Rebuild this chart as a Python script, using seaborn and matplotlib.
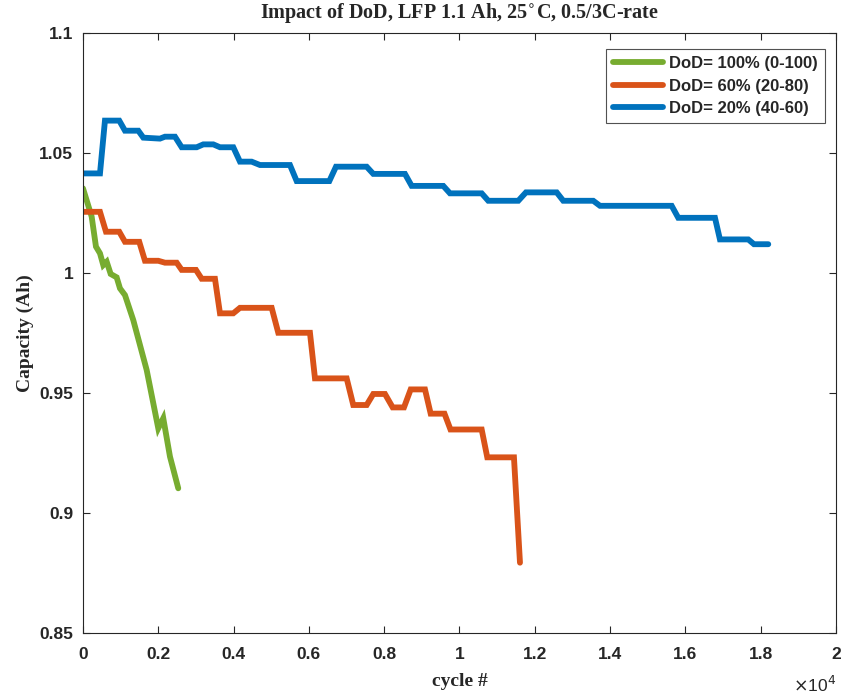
import matplotlib
matplotlib.use("Agg")
import matplotlib.pyplot as plt
import seaborn as sns
import pandas as pd
from matplotlib.ticker import FuncFormatter, MultipleLocator

# ---- data ----
green_cycles = [0, 231, 345, 452, 539, 630, 736, 895, 983, 1116, 1336, 1692, 2000, 2133, 2311, 2531]
green_cap = [1.0353, 1.0235, 1.011, 1.0082, 1.0033, 1.0047, 0.9996, 0.9982, 0.9936, 0.9908,
             0.9804, 0.9596, 0.9353, 0.9395, 0.9235, 0.9103]

orange_cycles = [0, 452, 611, 964, 1116, 1495, 1647, 2000, 2178, 2489, 2622, 3001, 3153, 3506,
                 3639, 3992, 4170, 5012, 5187, 6029, 6162, 7004, 7179, 7535, 7711, 8021, 8226,
                 8526, 8704, 9084, 9235, 9602, 9761, 10590, 10738, 11447, 11607]
orange_cap = [1.0255, 1.0255, 1.0172, 1.0172, 1.0130, 1.0130, 1.0051, 1.0051, 1.0043, 1.0043,
              1.0013, 1.0013, 0.9976, 0.9976, 0.9832, 0.9832, 0.9855, 0.9855, 0.9751, 0.9751,
              0.9561, 0.9561, 0.945, 0.945, 0.9496, 0.9496, 0.944, 0.944, 0.9515, 0.9515,
              0.9414, 0.9414, 0.9348, 0.9348, 0.9232, 0.9232, 0.8793]

blue_cycles = [0, 452, 584, 964, 1116, 1470, 1603, 2045, 2178, 2444, 2622, 3020, 3196, 3462,
               3639, 3993, 4170, 4480, 4701, 5498, 5676, 6543, 6720, 7535, 7711, 8552, 8730,
               9570, 9748, 10590, 10765, 11562, 11766, 12582, 12757, 13553, 13732, 15636,
               15811, 16786, 16918, 17670, 17822, 18202]
blue_cap = [1.0415, 1.0415, 1.0635, 1.0635, 1.0593, 1.0593, 1.0564, 1.0560, 1.0568, 1.0568,
            1.0524, 1.0524, 1.0536, 1.0536, 1.0524, 1.0524, 1.0464, 1.0464, 1.045, 1.045,
            1.0383, 1.0383, 1.0443, 1.0443, 1.0413, 1.0413, 1.0363, 1.0363, 1.0332, 1.0332,
            1.0301, 1.0301, 1.0336, 1.0336, 1.0301, 1.0301, 1.028, 1.028, 1.023, 1.023,
            1.014, 1.014, 1.012, 1.012]

labels = ["DoD= 100% (0-100)", "DoD= 60% (20-80)", "DoD= 20% (40-60)"]
colors = ["#77AC30", "#D95319", "#0072BD"]

sns.set_style("ticks")
plt.rcParams["font.family"] = ["Liberation Sans", "DejaVu Sans"]

fig = plt.figure(figsize=(8.44, 6.98), dpi=100)
ax = fig.add_axes([0.0983, 0.0931, 0.8922, 0.8596])

series = [(green_cycles, green_cap), (orange_cycles, orange_cap), (blue_cycles, blue_cap)]
for (xs, ys), lab, col in zip(series, labels, colors):
    df = pd.DataFrame({"cycle": xs, "cap": ys})
    sns.lineplot(data=df, x="cycle", y="cap", ax=ax, sort=False, color=col,
                 linewidth=4.2, label=lab, solid_joinstyle="miter")

ax.set_xlim(0, 20000)
ax.set_ylim(0.85, 1.1)
ax.xaxis.set_major_locator(MultipleLocator(2000))
ax.yaxis.set_major_locator(MultipleLocator(0.05))
ax.xaxis.set_major_formatter(FuncFormatter(lambda v, p: f"{v/1e4:g}"))
ax.yaxis.set_major_formatter(FuncFormatter(lambda v, p: f"{round(v, 2):g}"))
ax.tick_params(direction="in", top=True, right=True, length=5, width=0.8,
               labelsize=12.5, color="#262626")
ax.tick_params(axis="x", pad=10)
ax.tick_params(axis="y", pad=7)
for t in ax.get_xticklabels() + ax.get_yticklabels():
    t.set_fontweight("bold")
for s in ax.spines.values():
    s.set_color("#262626")
    s.set_linewidth(0.8)

ax.set_xlabel("cycle #", fontfamily="Liberation Serif", fontweight="bold", fontsize=14, labelpad=8)
ax.set_ylabel("Capacity (Ah)", fontfamily="Liberation Serif", fontweight="bold", fontsize=14, labelpad=4)
ax.set_title("Impact of DoD, LFP 1.1 Ah, 25$^{\\circ}$C, 0.5/3C-rate",
             fontfamily="Liberation Serif", fontweight="bold", fontsize=14.5, pad=11)
ax.text(1.0, -0.07, "$\\times$10$^4$", transform=ax.transAxes, ha="right", va="top",
        fontsize=12.5)

leg = ax.legend(loc="upper right", bbox_to_anchor=(0.9854, 0.9733), borderaxespad=0,
                frameon=True, fancybox=False, edgecolor="#262626",
                handlelength=3.0, handletextpad=0.35, borderpad=0.42, labelspacing=0.45,
                prop={"weight": "bold", "size": 12, "family": "Liberation Sans"})
leg.get_frame().set_linewidth(0.8)

fig.savefig("out.png", dpi=100)
